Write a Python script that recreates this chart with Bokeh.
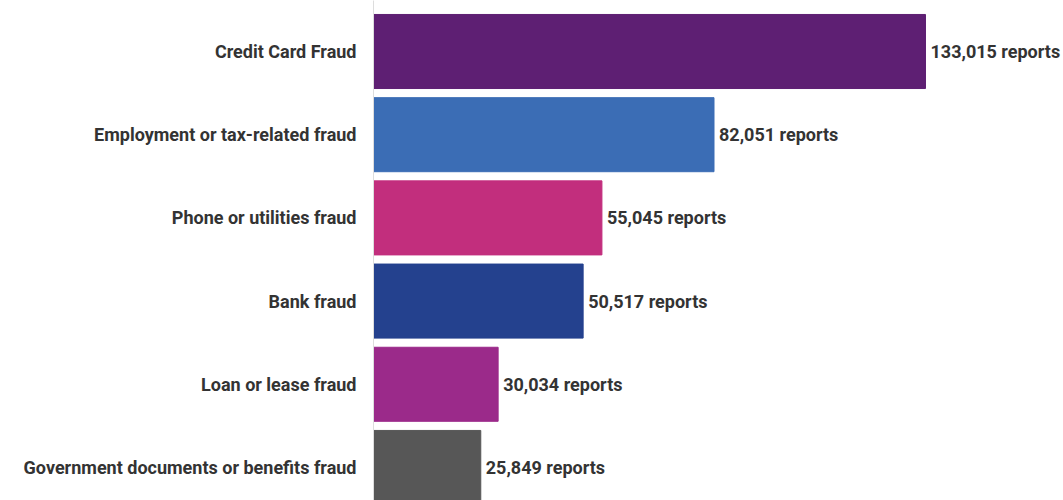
from bokeh.plotting import figure
from bokeh.models import ColumnDataSource, Range1d, FixedTicker, LabelSet
from bokeh.core.properties import value
from bokeh.embed import file_html
from bokeh.resources import INLINE

categories = ["Credit Card Fraud", "Employment or tax-related fraud", "Phone or utilities fraud",
              "Bank fraud", "Loan or lease fraud", "Government documents or benefits fraud"]
reports = [133015, 82051, 55045, 50517, 30034, 25849]
colors = ["#5e1f73", "#3b6db5", "#c22e7d", "#24418e", "#9b2a8a", "#575757"]
value_labels = [f"{v:,} reports" for v in reports]

idx = list(range(len(categories)))
src = ColumnDataSource(dict(y=idx, v=reports, c=colors, lab=value_labels))

p = figure(width=1063, height=500, output_backend="svg", toolbar_location=None,
           x_range=Range1d(0, 166270), y_range=Range1d(5.397, -0.613),
           min_border_left=373, min_border_right=0, min_border_top=0, min_border_bottom=0)
p.hbar(y="y", left=0, right="v", height=0.89, color="c", source=src)

labels = LabelSet(x="v", y="y", text="lab", source=src, x_offset=5, text_baseline="middle",
                  text_font=value("Roboto"), text_font_style="bold", text_font_size="18px",
                  text_color="#333333")
p.add_layout(labels)

p.xaxis.visible = False
p.yaxis.ticker = FixedTicker(ticks=idx)
p.yaxis.major_label_overrides = {i: c for i, c in zip(idx, categories)}
p.yaxis.major_tick_line_color = None
p.yaxis.minor_tick_line_color = None
p.yaxis.major_label_standoff = 11
p.yaxis.axis_line_color = "#dddddd"
p.yaxis.axis_line_width = 1
p.yaxis.major_label_text_font = "Roboto"
p.yaxis.major_label_text_font_style = "bold"
p.yaxis.major_label_text_font_size = "18px"
p.yaxis.major_label_text_color = "#333333"
p.xgrid.visible = False
p.ygrid.visible = False
p.outline_line_color = None

open("out.html", "w").write(file_html(p, INLINE))
